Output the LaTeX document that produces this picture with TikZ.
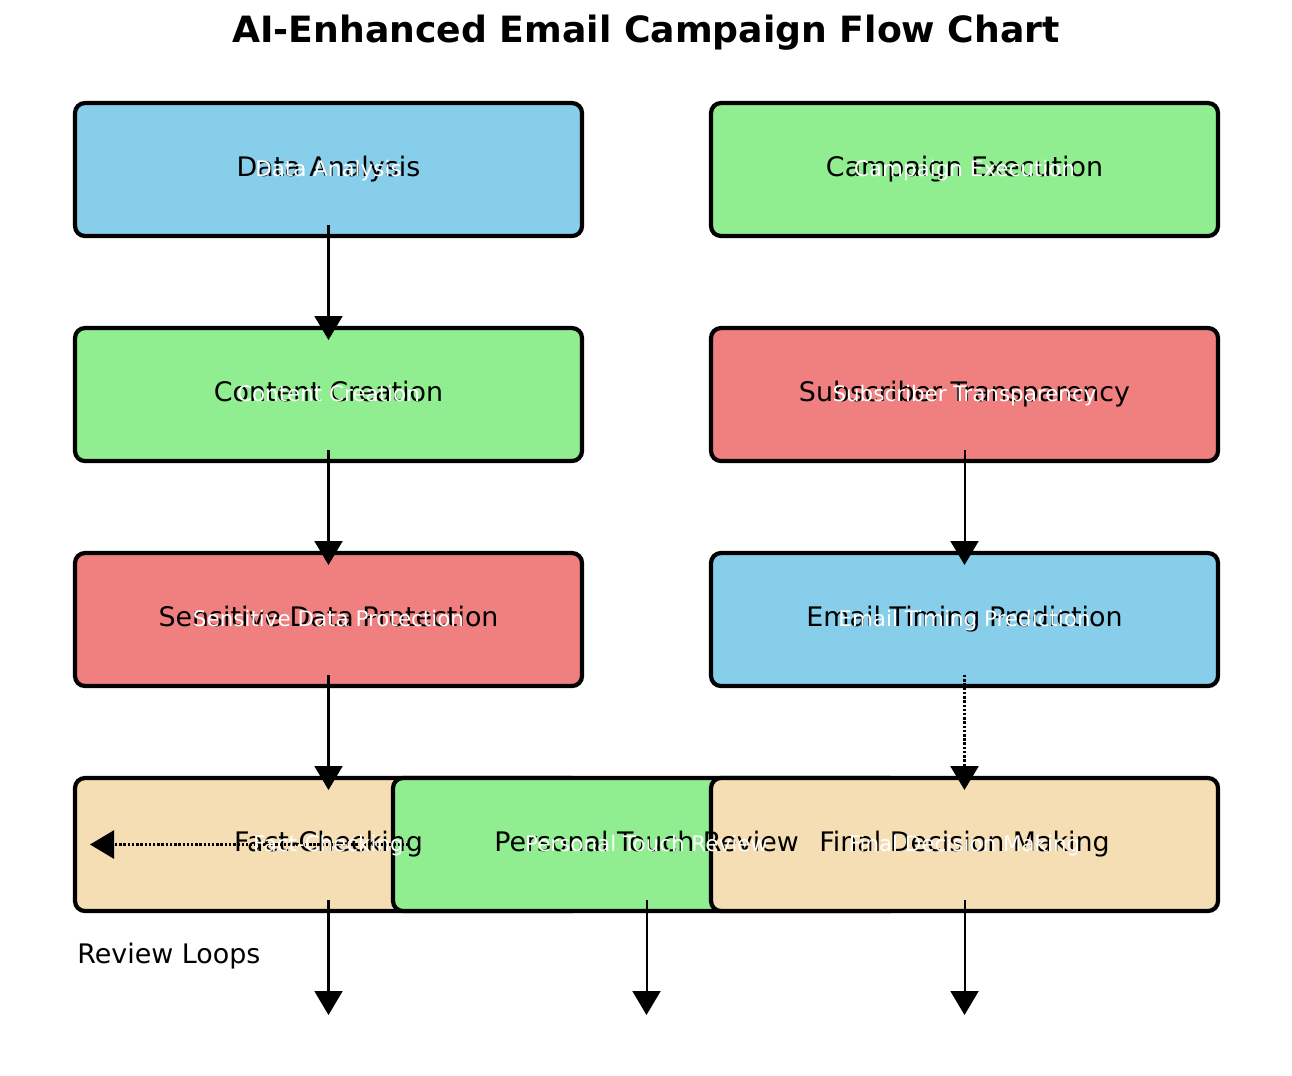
\documentclass[tikz,border=0pt]{standalone}
\usepackage{fontspec}
\setmainfont{DejaVu Sans}
\usetikzlibrary{arrows.meta,positioning,calc}
\definecolor{skyblue}{HTML}{87CEEB}
\definecolor{lgreen}{HTML}{90EE90}
\definecolor{lcoral}{HTML}{F08080}
\definecolor{wheat}{HTML}{F5DEB3}
\tikzset{
  box/.style={rectangle, draw=black, line width=2.4pt, rounded corners=0.2cm,
              minimum width=10.14cm, minimum height=2.66cm, outer sep=0pt},
  txt/.style={font=\fontsize{15.3}{18}\selectfont, text=black, inner sep=0pt,
              text height=11pt, text depth=2.5pt},
  ghost/.style={font=\fontsize{12.2}{14}\selectfont, text=white, inner sep=0pt,
                text height=11pt, text depth=2.5pt},
  arr/.style={-{Triangle[length=0.48cm,width=0.56cm]}, line width=1.15pt},
  dotarr/.style={arr, line width=1.5pt, dash pattern=on 1.4pt off 1pt},
}
\begin{document}
\begin{tikzpicture}[node distance=1.84cm and 2.58cm]
    \useasboundingbox (0,0) rectangle (25.84,-21.5);
    \node[font=\bfseries\fontsize{20.6}{24}\selectfont] (ttl) at (12.92,-0.66)
      {AI-Enhanced Email Campaign Flow Chart};
    % boxes
    \node[box, fill=skyblue] (da) at (6.57,-3.39) {};
    \node[box, fill=lgreen, right=of da] (ce) {};
    \node[box, fill=lgreen, below=of da] (cc) {};
    \node[box, fill=lcoral, below=of ce] (st) {};
    \node[box, fill=lcoral, below=of cc] (sp) {};
    \node[box, fill=skyblue, below=of st] (et) {};
    \node[box, fill=wheat, below=of sp] (fc) {};
    \node[box, fill=lgreen, right=-3.78cm of fc] (pt) {};
    \node[box, fill=wheat, below=of et] (fd) {};
    \coordinate (fc-end) at ($(fc.south)+(0,-2.08)$);
    \coordinate (pt-end) at ($(pt.south)+(0,-2.08)$);
    \coordinate (fd-end) at ($(fd.south)+(0,-2.08)$);
    % arrows
    \draw[arr] ($(da.south)+(0,0.22)$) -- ($(cc.north)+(0,-0.24)$);
    \draw[arr] ($(cc.south)+(0,0.22)$) -- ($(sp.north)+(0,-0.24)$);
    \draw[arr] ($(sp.south)+(0,0.22)$) -- ($(fc.north)+(0,-0.24)$);
    \draw[arr] ($(st.south)+(0,0.22)$) -- ($(et.north)+(0,-0.24)$);
    \draw[dotarr] ($(et.south)+(0,0.22)$) -- ($(fd.north)+(0,-0.24)$);
    \draw[dotarr] ($(fc.center)+(1.6,0)$) -- ($(fc.west)+(0.3,0)$);
    \draw[arr] ($(fc.south)+(0,0.22)$) -- (fc-end);
    \draw[arr] ($(pt.south)+(0,0.22)$) -- (pt-end);
    \draw[arr] ($(fd.south)+(0,0.22)$) -- (fd-end);
    % labels
    \node[txt, label={[ghost]center:Data Analysis}] (da-t) at (da) {Data Analysis};
    \node[txt, label={[ghost]center:Campaign Execution}] (ce-t) at (ce) {Campaign Execution};
    \node[txt, label={[ghost]center:Content Creation}] (cc-t) at (cc) {Content Creation};
    \node[txt, label={[ghost]center:Subscriber Transparency}] (st-t) at (st) {Subscriber Transparency};
    \node[txt, label={[ghost]center:Sensitive Data Protection}] (sp-t) at (sp) {Sensitive Data Protection};
    \node[txt, label={[ghost]center:Email Timing Prediction}] (et-t) at (et) {Email Timing Prediction};
    \node[txt, label={[ghost]center:Fact-Checking}] (fc-t) at (fc) {Fact-Checking};
    \node[txt, label={[ghost]center:Personal Touch Review}] (pt-t) at (pt) {Personal Touch Review};
    \node[txt, label={[ghost]center:Final Decision Making}] (fd-t) at (fd) {Final Decision Making};
    \node[txt, anchor=west] (rl) at ($(fc.south west)+(0.04,-0.9)$) {Review Loops};
  \end{tikzpicture}
\end{document}
